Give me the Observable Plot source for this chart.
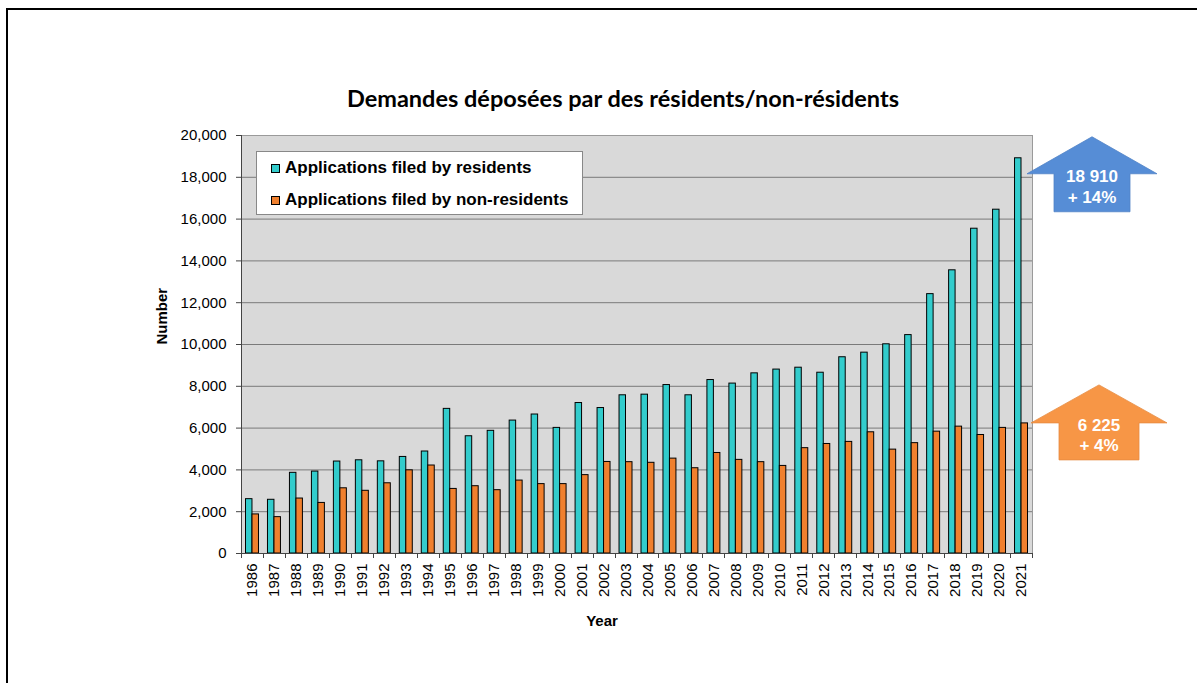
<!DOCTYPE html>
<html><head><meta charset="utf-8">
<script src="https://cdn.jsdelivr.net/npm/d3@7"></script>
<script src="https://cdn.jsdelivr.net/npm/@observablehq/plot@0.6"></script>
<style>
body{margin:0;width:1197px;height:683px;overflow:hidden;background:#fff;position:relative;font-family:"Liberation Sans",Arial,sans-serif;}
#frame{position:absolute;left:6px;top:8px;width:1400px;height:900px;border:2px solid #000;box-sizing:border-box;pointer-events:none}
#title{height:120px;box-sizing:border-box;padding-top:84px;padding-left:49px;text-align:center;font-family:Lato,"Open Sans",sans-serif;font-weight:bold;font-size:23.5px;line-height:28px;color:#000}
#legend{position:absolute;left:256px;top:151px;width:327px;height:64px;box-sizing:border-box;background:#fff;border:1px solid #888;font-weight:bold;font-size:17px;color:#000}
.row{position:absolute;left:14px;height:20px;display:flex;align-items:center;white-space:nowrap}
.sw{width:7px;height:7px;border:1px solid #000;margin-right:5px}
#chart svg{display:block}
</style></head>
<body>
<div id="frame"></div>
<div id="title">Demandes déposées par des résidents/non-résidents</div>
<div id="chart"></div>
<div id="legend"></div>
<script>
const years = ["1986","1987","1988","1989","1990","1991","1992","1993","1994","1995","1996","1997","1998","1999","2000","2001","2002","2003","2004","2005","2006","2007","2008","2009","2010","2011","2012","2013","2014","2015","2016","2017","2018","2019","2020","2021"];
const residents = [2600,2570,3860,3920,4400,4460,4410,4620,4880,6920,5610,5870,6360,6650,6010,7200,6960,7570,7600,8060,7570,8300,8130,8620,8800,8890,8650,9390,9610,10010,10450,12410,13550,15540,16450,18910];
const nonResidents = [1870,1740,2630,2420,3120,3000,3360,3980,4210,3090,3220,3030,3490,3320,3320,3750,4380,4370,4340,4540,4080,4810,4480,4370,4190,5040,5240,5340,5800,4970,5280,5830,6070,5670,6010,6225];
const seriesNames = ["Applications filed by residents","Applications filed by non-residents"];
const yTicks = [0,2000,4000,6000,8000,10000,12000,14000,16000,18000,20000];
const annotValues = [18910, 6225];
const annotGrowth = ["+ 14%", "+ 4%"];

const colors = ["#33CCCC", "#F0802E"];
const arrowStyles = [
  {fill:"#568DD6", cx:60, baseDy:16, headHalf:65, headH:37, bodyHalf:38, bodyH:38, l1:2, l2:23},
  {fill:"#F79646", cx:67, baseDy:0, headHalf:68, headH:38, bodyHalf:40, bodyH:37, l1:2, l2:22}
];

const data = years.map((year, i) => ({year, residents: residents[i], nonResidents: nonResidents[i]}));
const spaceFmt = d3.formatLocale({thousands:" ", grouping:[3], decimal:".", currency:["",""]}).format(",");

function axisLines(index, scales, values, dims) {
  const x = scales.x;
  const left = dims.marginLeft, right = dims.width - dims.marginRight;
  const top = dims.marginTop, bottom = dims.height - dims.marginBottom;
  const step = x(years[1]) - x(years[0]);
  const g = d3.create("svg:g").attr("stroke", "#444").attr("fill", "none").attr("stroke-width", 1);
  g.append("line").attr("x1", left + 0.5).attr("x2", left + 0.5).attr("y1", top).attr("y2", bottom);
  g.append("line").attr("x1", left).attr("x2", right).attr("y1", bottom + 0.5).attr("y2", bottom + 0.5);
  const xs = years.map(d => x(d)).concat([x(years[years.length - 1]) + step]);
  for (const xv of xs) {
    g.append("line").attr("x1", Math.round(xv) + 0.5).attr("x2", Math.round(xv) + 0.5).attr("y1", bottom).attr("y2", bottom + 5);
  }
  return g.node();
}

function arrows(index, scales, values, dims) {
  const y = scales.y;
  const R = dims.width - dims.marginRight;
  const g = d3.create("svg:g");
  annotValues.forEach((v, i) => {
    const s = arrowStyles[i];
    const cx = R + s.cx, base = y(v) + s.baseDy;
    const pts = [
      [cx, base - s.headH], [cx + s.headHalf, base], [cx + s.bodyHalf, base],
      [cx + s.bodyHalf, base + s.bodyH], [cx - s.bodyHalf, base + s.bodyH],
      [cx - s.bodyHalf, base], [cx - s.headHalf, base]
    ];
    g.append("polygon").attr("points", pts.map(p => p.join(",")).join(" ")).attr("fill", s.fill).attr("stroke", d3.color(s.fill).darker(0.2)).attr("stroke-width", 0.8);
    const t = g.append("g").attr("fill", "#fff").attr("font-weight", "bold").attr("font-size", 17).attr("text-anchor", "middle").attr("font-family", "Liberation Sans, Arial, sans-serif");
    t.append("text").attr("x", cx).attr("y", base + s.l1).attr("dy", "0.35em").text(spaceFmt(v));
    t.append("text").attr("x", cx).attr("y", base + s.l2).attr("dy", "0.35em").text(annotGrowth[i]);
  });
  return g.node();
}

const chart = Plot.plot({
  width: 1197, height: 563,
  marginLeft: 241, marginRight: 165, marginTop: 15, marginBottom: 130,
  style: {fontFamily: "Liberation Sans, Arial, sans-serif", fontSize: "15px", color: "#000", background: "transparent", overflow: "visible"},
  x: {type: "band", domain: years, paddingInner: 0, paddingOuter: 0, label: null},
  y: {domain: [0, 20000], label: null},
  marks: [
    Plot.frame({fill: "#D9D9D9", stroke: null}),
    Plot.gridY(yTicks, {stroke: "#7a7a7a", strokeOpacity: 1}),
    Plot.barY(data, {x: "year", y: "residents", fill: colors[0], stroke: "#000", strokeWidth: 1, insetLeft: 4.5, insetRight: 11}),
    Plot.barY(data, {x: "year", y: "nonResidents", fill: colors[1], stroke: "#000", strokeWidth: 1, insetLeft: 11, insetRight: 4.5}),
    Plot.frame({stroke: "#9a9a9a"}),
    Plot.axisY(yTicks, {tickFormat: d3.format(","), tickSize: 5, tickPadding: 10, stroke: "#444", fontSize: 15, label: null}),
    Plot.axisX({tickSize: 0, tickRotate: -90, tickPadding: 10, fontSize: 15, label: null}),
    Plot.text(["Number"], {frameAnchor: "left", dx: -79, rotate: -90, fontWeight: "bold", fontSize: 15}),
    Plot.text(["Year"], {frameAnchor: "bottom", dx: -35, dy: 72, fontWeight: "bold", fontSize: 15}),
    axisLines,
    arrows
  ]
});
document.getElementById("chart").appendChild(chart);

const legend = document.getElementById("legend");
seriesNames.forEach((name, i) => {
  const row = document.createElement("div");
  row.className = "row";
  row.style.top = (6 + i * 32) + "px";
  const sw = document.createElement("div");
  sw.className = "sw";
  sw.style.background = colors[i];
  const tx = document.createElement("span");
  tx.textContent = name;
  row.appendChild(sw); row.appendChild(tx);
  legend.appendChild(row);
});
</script>
</body></html>
